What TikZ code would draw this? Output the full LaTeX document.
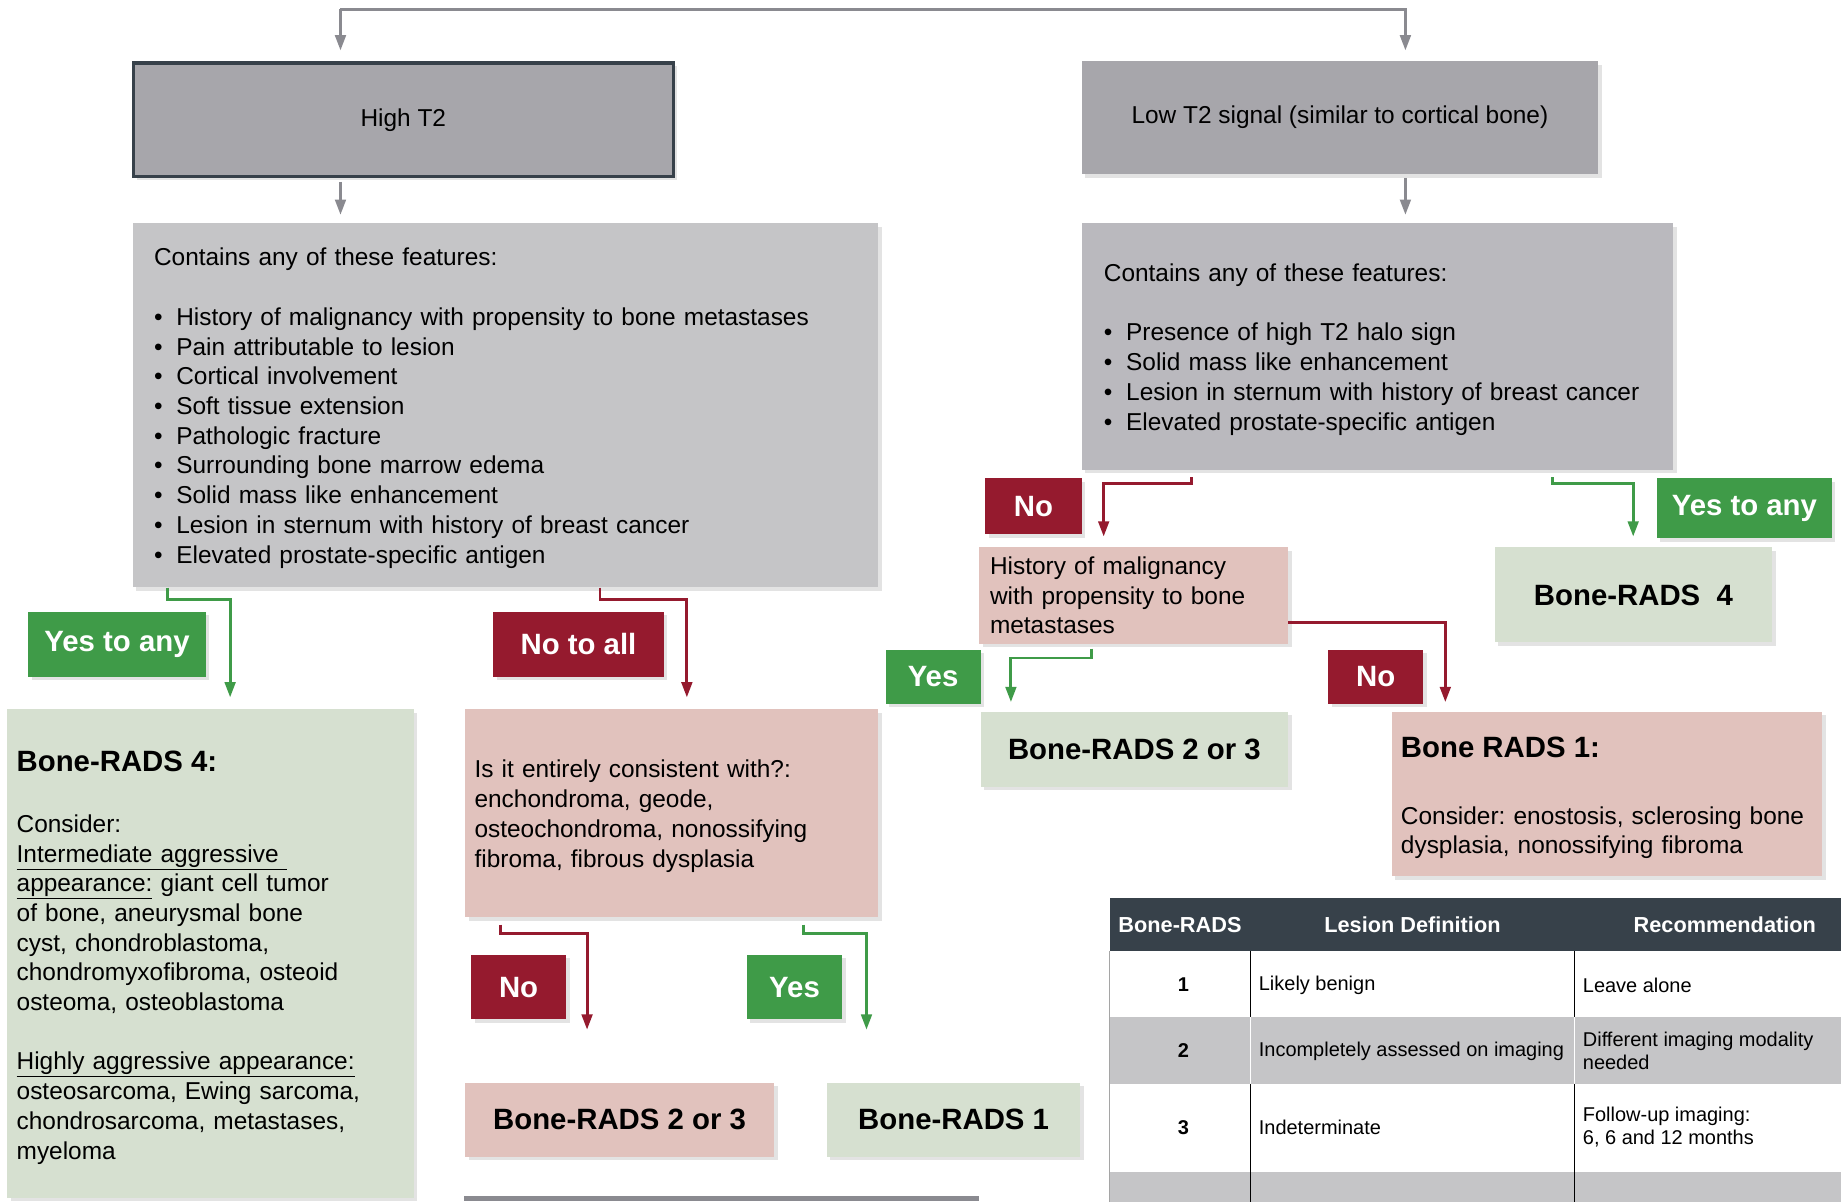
\documentclass[tikz,border=0pt]{standalone}
\usepackage{fontspec}
\setmainfont{Liberation Sans}
\usetikzlibrary{arrows.meta,shadows}

\definecolor{boxdark}{HTML}{A7A6AB}
\definecolor{boxlight}{HTML}{C5C5C7}
\definecolor{boxmid}{HTML}{BAB9BE}
\definecolor{slate}{HTML}{37414A}
\definecolor{yesgreen}{HTML}{3F9B48}
\definecolor{nored}{HTML}{951A2E}
\definecolor{pinkbox}{HTML}{E1C2BD}
\definecolor{greenbox}{HTML}{D6E0D0}
\definecolor{linegray}{HTML}{8A8A90}

\newcommand\featbullet{\makebox[19pt][l]{\textbullet}}
\newcommand\topstrut[1]{\rule{0pt}{#1}}

\tikzset{
  card/.style={anchor=north west, inner sep=0pt,
    drop shadow={opacity=0.22, shadow xshift=3pt, shadow yshift=-3pt}},
  darkbox/.style={card, fill=boxdark},
  listbox/.style={card, align=left, inner xsep=18pt},
  resbox/.style={card, font=\bfseries\fontsize{25}{30}\selectfont},
  lbl/.style={card, text=white, font=\bfseries\fontsize{25}{30}\selectfont},
  yeslbl/.style={lbl, fill=yesgreen},
  nolbl/.style={lbl, fill=nored},
  arr/.style={line width=2.5pt, -{Triangle[length=13pt,width=9pt]}},
  grayarr/.style={arr, linegray},
  yesarr/.style={arr, yesgreen, shorten >=10pt},
  noarr/.style={arr, nored, shorten >=10pt},
  cell/.style={anchor=west, align=left, inner xsep=6pt, font=\fontsize{17}{20}\selectfont\frenchspacing},
  cellnum/.style={font=\bfseries\fontsize{17}{20}\selectfont},
  headcell/.style={text=white, font=\bfseries\fontsize{18.5}{22}\selectfont}
}

\begin{document}
\begin{tikzpicture}[x=1pt, y=-1pt, font=\fontsize{20.8}{25.3}\selectfont\frenchspacing]
\useasboundingbox (0,0) rectangle (1568,1023);

% signal boxes
\node[darkbox, minimum width=460pt, minimum height=97pt, draw=slate, line width=3pt] (high) at (112,52) {High T2};
\node[darkbox, minimum width=440pt, minimum height=96pt] (low) at (921,52) {Low T2 signal (similar to cortical bone)};

\coordinate (forkl) at (290,8);
\coordinate (forkr) at (1197,8);
\draw[grayarr, shorten >=9pt] (forkl) -- (forkr) -- (forkr |- low.north);
\draw[grayarr, shorten >=9pt] (forkl) -- (forkl |- high.north);

% feature lists
\node[listbox, fill=boxlight, text width=599pt, minimum height=310pt] (feat1) at (113,190) {\topstrut{20pt}Contains any of these features:\\[25.3pt]
  \featbullet History of malignancy with propensity to bone metastases\\
  \featbullet Pain attributable to lesion\\
  \featbullet Cortical involvement\\
  \featbullet Soft tissue extension\\
  \featbullet Pathologic fracture\\
  \featbullet Surrounding bone marrow edema\\
  \featbullet Solid mass like enhancement\\
  \featbullet Lesion in sternum with history of breast cancer\\
  \featbullet Elevated prostate-specific antigen};
\node[listbox, fill=boxmid, text width=466pt, minimum height=210pt, inner xsep=19pt] (feat2) at (921,190) {\topstrut{20pt}Contains any of these features:\\[25.3pt]
  \featbullet Presence of high T2 halo sign\\
  \featbullet Solid mass like enhancement\\
  \featbullet Lesion in sternum with history of breast cancer\\
  \featbullet Elevated prostate-specific antigen};

\draw[grayarr, shorten <=3pt, shorten >=7pt] (high.south -| forkl) -- (feat1.north -| forkl);
\draw[grayarr, shorten <=3pt, shorten >=7pt] (low.south -| forkr) -- (feat2.north -| forkr);

% high T2 branch
\node[yeslbl, minimum width=151pt, minimum height=55pt] (yesany1) at (24,521) {Yes to any};
\node[nolbl, minimum width=145pt, minimum height=55pt] (noall) at (420,521) {No to all};

\node[listbox, fill=greenbox, inner xsep=8pt, text width=330pt, minimum height=416pt] (rads4a) at (6,604) {\topstrut{24pt}{\bfseries\fontsize{25}{30}\selectfont Bone-RADS 4:}\\[26.7pt]
  Consider:\\
  \underline{Intermediate aggressive\ }\\
  \underline{appearance:} giant cell tumor\\
  of bone, aneurysmal bone\\
  cyst, chondroblastoma,\\
  chondromyxofibroma, osteoid\\
  osteoma, osteoblastoma\\[25.3pt]
  \underline{Highly aggressive appearance:}\\
  osteosarcoma, Ewing sarcoma,\\
  chondrosarcoma, metastases,\\
  myeloma};
\node[listbox, fill=pinkbox, inner xsep=8pt, text width=336pt, minimum height=177pt] (isit) at (396,604) {\topstrut{20pt}Is it entirely consistent with?:\\
  enchondroma, geode,\\
  osteochondroma, nonossifying\\
  fibroma, fibrous dysplasia};

\draw[yesarr] (feat1.south -| 143,0) -- ++(0,10) -| (rads4a.north -| 196,0);
\draw[noarr] (feat1.south -| 511,0) -- ++(0,10) -| (isit.north -| 585,0);

\node[nolbl, minimum width=81pt, minimum height=55pt] (no2) at (401,813) {No};
\node[yeslbl, minimum width=81pt, minimum height=55pt] (yes2) at (636,813) {Yes};
\node[resbox, fill=pinkbox, minimum width=263pt, minimum height=63pt] (b23a) at (396,922) {Bone-RADS 2 or 3};
\node[resbox, fill=greenbox, minimum width=216pt, minimum height=63pt] (b1a) at (704,922) {Bone-RADS 1};

\draw[noarr, shorten <=6pt, shorten >=45pt] (isit.south -| 426,0) -- ++(0,14) -| (b23a.north -| 500,0);
\draw[yesarr, shorten <=6pt, shorten >=45pt] (isit.south -| 684,0) -- ++(0,14) -| (b1a.north -| 738,0);

\fill[linegray] (395,1019) rectangle (834,1023);

% low T2 branch
\node[nolbl, minimum width=82pt, minimum height=48pt] (no3) at (839,407) {No};
\node[yeslbl, minimum width=149pt, minimum height=51pt] (yesany2) at (1411,407) {Yes to any};
\node[listbox, fill=pinkbox, inner xsep=9pt, text width=245pt, minimum height=82pt] (hist) at (834,466) {History of malignancy\\
  with propensity to bone\\
  metastases};
\node[resbox, fill=greenbox, minimum width=236pt, minimum height=81pt] (rads4b) at (1273,466) {Bone-RADS\ \ 4};

\draw[noarr, shorten <=6pt, shorten >=9pt] (feat2.south -| 1015,0) -- ++(0,11) -| (hist.north -| 940,0);
\draw[yesarr, shorten <=6pt, shorten >=9pt] (feat2.south -| 1322,0) -- ++(0,11) -| (rads4b.north -| 1391,0);

\node[yeslbl, minimum width=81pt, minimum height=46pt] (yes3) at (754,553) {Yes};
\node[nolbl, minimum width=81pt, minimum height=46pt] (no4) at (1131,553) {No};
\node[resbox, fill=greenbox, minimum width=262pt, minimum height=64pt] (b23b) at (835,606) {Bone-RADS 2 or 3};
\node[listbox, fill=pinkbox, inner xsep=8pt, text width=351pt, minimum height=140pt] (b1b) at (1185,606) {\topstrut{24pt}{\bfseries\fontsize{25}{30}\selectfont Bone RADS 1:}\\[31.7pt]
  Consider: enostosis, sclerosing bone\\
  dysplasia, nonossifying fibroma};

\draw[yesarr, shorten <=4pt, shorten >=8pt] (hist.south -| 930,0) -- ++(0,12) -| (b23b.north -| 861,0);
\draw[noarr, shorten >=8pt] (hist.east |- 0,530) -| (b1b.north -| 1231,0);

% table
\begin{scope}
  \clip (945,760) rectangle (1568,1023);
  \fill[slate] (945,765) rectangle (1600,810);
  \fill[boxlight] (945,866) rectangle (1600,923);
  \fill[boxlight] (945,998) rectangle (1600,1030);
  \draw[line width=1.2pt] (945,810) -- (945,1030);
  \foreach \cx in {1065,1341} {
    \draw[line width=1.2pt] (\cx,810) -- (\cx,866);
    \draw[white, line width=1.2pt] (\cx,866) -- (\cx,923);
    \draw[line width=1.2pt] (\cx,923) -- (\cx,1030);
  }
  \node[headcell] (hrads) at (1005,788) {Bone-RADS};
  \node[headcell] (hdef) at (1203,788) {Lesion Definition};
  \node[headcell] (hrec) at (1469,788) {Recommendation};
  \foreach \rowno/\y/\deftext/\rectext in {1/839/{Likely benign}/{Leave alone},
      2/895/{Incompletely assessed on imaging}/{Different imaging modality\\needed},
      3/960/{Indeterminate}/{Follow-up imaging:\\6, 6 and 12 months}} {
    \node[cellnum] (num\rowno) at (1008,\y) {\rowno};
    \node[cell] (def\rowno) at (1066,\y) {\deftext};
    \node[cell] (rec\rowno) at (1342,\y) {\rectext};
  }
\end{scope}
\end{tikzpicture}
\end{document}
